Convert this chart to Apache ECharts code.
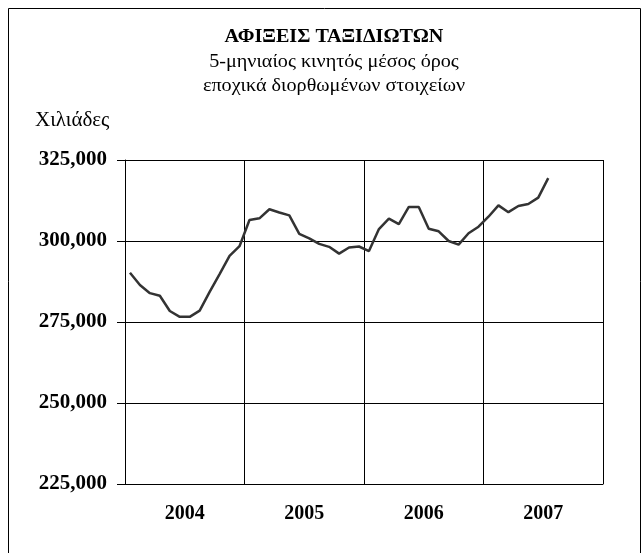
<!DOCTYPE html>
<html>
<head>
<meta charset="utf-8">
<script src="https://cdn.jsdelivr.net/npm/echarts@6/dist/echarts.min.js"></script>
<style>html,body{margin:0;padding:0;background:#fff}#c{width:643px;height:553px}</style>
</head>
<body>
<div id="c"></div>
<script>
const years = ['2004', '2005', '2006', '2007'];
const months = [];
years.forEach(y => { for (let m = 1; m <= 12; m++) months.push(y + '-' + m); });
const arrivals = [
  290200, 286400, 283900, 283100, 278400, 276600, 276600, 278500, 284300, 289800, 295400, 298400,
  306500, 307000, 309800, 308800, 307900, 302200, 300800, 299100, 298200, 296100, 298000, 298300,
  296900, 303700, 306900, 305200, 310500, 310500, 303800, 303000, 300000, 298900, 302400, 304400,
  307500, 311000, 308900, 310800, 311400, 313400, 319400
];
const titleText = 'ΑΦΙΞΕΙΣ ΤΑΞΙΔΙΩΤΩΝ';
const subLine1 = '5-μηνιαίος κινητός μέσος όρος';
const subLine2 = 'εποχικά διορθωμένων στοιχείων';
const unitText = 'Χιλιάδες';

const serif = '"Liberation Serif", "Times New Roman", serif';
function headText(txt, y, size, weight) {
  return {
    type: 'text', x: 334, y: y, scaleX: 1.12, scaleY: 1,
    style: {text: txt, fill: '#000', fontFamily: serif, fontSize: size, fontWeight: weight,
            align: 'center', verticalAlign: 'middle'}
  };
}
const chart = echarts.init(document.getElementById('c'));
chart.setOption({
  animation: false,
  backgroundColor: '#fff',
  graphic: [
    {type: 'rect', shape: {x: 8.5, y: 8.5, width: 632, height: 600},
     style: {fill: 'none', stroke: '#000', lineWidth: 1}},
    headText(titleText, 37, 18, 'bold'),
    headText(subLine1, 62, 18, 'normal'),
    headText(subLine2, 86, 18, 'normal')
  ],
  title: [
    {text: unitText, left: 35, top: 110, padding: 0, textStyle: {fontFamily: serif, fontSize: 21, fontWeight: 'normal', color: '#000'}}
  ],
  grid: {left: 125, right: 40, top: 160, bottom: 69, containLabel: false, show: false},
  xAxis: [{
    type: 'category', data: months, boundaryGap: true, show: false
  }, {
    type: 'category', data: years, boundaryGap: true, position: 'bottom',
    axisLine: {show: true, lineStyle: {color: '#000', width: 1}},
    axisTick: {show: false},
    splitLine: {show: true, lineStyle: {color: '#000', width: 1}},
    axisLabel: {fontFamily: serif, fontSize: 20, fontWeight: 'bold', color: '#000', margin: 20}
  }],
  yAxis: {
    type: 'value', min: 225000, max: 325000, interval: 25000,
    axisLine: {show: true, lineStyle: {color: '#000', width: 1}},
    axisTick: {show: true, length: 8, lineStyle: {color: '#000'}},
    splitLine: {show: true, lineStyle: {color: '#000', width: 1}},
    axisLabel: {
      fontFamily: serif, fontSize: 21, fontWeight: 'bold', color: '#000', margin: 18,
      formatter: v => v.toLocaleString('en-US')
    }
  },
  series: [{
    type: 'line', xAxisIndex: 0, data: arrivals, symbol: 'none',
    lineStyle: {color: '#333', width: 2.5}
  }]
});
</script>
</body>
</html>
